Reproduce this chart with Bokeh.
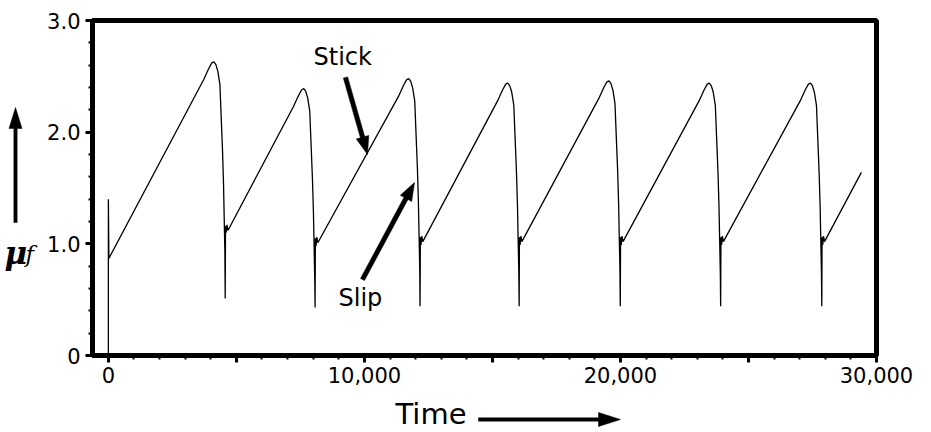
from bokeh.plotting import figure
from bokeh.layouts import column, row
from bokeh.models import FixedTicker, Label, PolyAnnotation
from bokeh.embed import file_html
from bokeh.resources import INLINE
import math

# ---- data ----
time_pts = [
    0, 0, 20,
    3720, 3920, 4040, 4120, 4200, 4276, 4355, 4407, 4459, 4498, 4524, 4550, 4563, 4575, 4600, 4630, 4670,
    7230, 7430, 7550, 7630, 7710, 7786, 7865, 7917, 7969, 8008, 8034, 8060, 8073, 8085, 8110, 8140, 8180,
    11330, 11530, 11650, 11730, 11810, 11886, 11965, 12017, 12069, 12108, 12134, 12160, 12173, 12185, 12210, 12240, 12280,
    15200, 15400, 15520, 15600, 15680, 15756, 15835, 15887, 15939, 15978, 16004, 16030, 16043, 16055, 16080, 16110, 16150,
    19150, 19350, 19470, 19550, 19630, 19706, 19785, 19837, 19889, 19928, 19954, 19980, 19993, 20005, 20030, 20060, 20100,
    23070, 23270, 23390, 23470, 23550, 23626, 23705, 23757, 23809, 23848, 23874, 23900, 23913, 23925, 23950, 23980, 24020,
    27020, 27220, 27340, 27420, 27500, 27576, 27655, 27707, 27759, 27798, 27824, 27850, 27863, 27875, 27900, 27930, 27970,
    29410,
]
mu_pts = [
    0.0, 1.40, 0.87,
    2.47, 2.57, 2.62, 2.63, 2.605, 2.545, 2.43, 2.13, 1.83, 1.53, 1.23, 0.93, 0.51, 1.16, 1.10, 1.17, 1.12,
    2.23, 2.33, 2.38, 2.39, 2.365, 2.305, 2.19, 1.89, 1.59, 1.29, 0.99, 0.69, 0.43, 1.05, 0.98, 1.06, 1.01,
    2.32, 2.42, 2.47, 2.48, 2.455, 2.395, 2.28, 1.98, 1.68, 1.38, 1.08, 0.78, 0.44, 1.06, 0.99, 1.07, 1.02,
    2.28, 2.38, 2.43, 2.44, 2.415, 2.355, 2.24, 1.94, 1.64, 1.34, 1.04, 0.74, 0.44, 1.06, 0.99, 1.07, 1.02,
    2.30, 2.40, 2.45, 2.46, 2.435, 2.375, 2.26, 1.96, 1.66, 1.36, 1.06, 0.76, 0.44, 1.06, 0.99, 1.07, 1.02,
    2.28, 2.38, 2.43, 2.44, 2.415, 2.355, 2.24, 1.94, 1.64, 1.34, 1.04, 0.74, 0.44, 1.06, 0.99, 1.07, 1.02,
    2.28, 2.38, 2.43, 2.44, 2.415, 2.355, 2.24, 1.94, 1.64, 1.34, 1.04, 0.74, 0.44, 1.06, 0.99, 1.07, 1.02,
    1.64,
]

x_major = [0, 5000, 10000, 15000, 20000, 25000, 30000]
x_minor = [1000, 2000, 3000, 4000, 6000, 7000, 8000, 9000, 11000, 12000, 13000, 14000,
           16000, 17000, 18000, 19000, 21000, 22000, 23000, 24000, 26000, 27000, 28000, 29000]
x_labels = {0: "0", 5000: "", 10000: "10,000", 15000: "", 20000: "20,000", 25000: "", 30000: "30,000"}
y_major = [0, 1, 2, 3]
y_minor = [0.2, 0.4, 0.6, 0.8, 1.2, 1.4, 1.6, 1.8, 2.2, 2.4, 2.6, 2.8]
y_labels = {0: "0", 1: "1.0", 2: "2.0", 3: "3.0"}

X0, X1 = -620, 30000
Y0, Y1 = 0, 3.0

# page layout (pixels)
W, H = 925, 432
LW = 42            # width of left strip (y title)
MH = 396           # height of main figure
FL, FR, FT, FB = 92, 876, 20, 355   # frame edges in page pixels


def dx(px):
    return X0 + (px - FL) * (X1 - X0) / (FR - FL)


def dy(py):
    return Y0 + (FB - py) * (Y1 - Y0) / (FB - FT)


def ident(v):
    return v


def blank(width, height, xr, yr):
    f = figure(width=width, height=height, x_range=xr, y_range=yr, x_axis_type=None,
               y_axis_type=None, output_backend="svg", toolbar_location=None, title=None,
               min_border=0)
    f.outline_line_color = None
    f.background_fill_color = "white"
    f.border_fill_color = "white"
    return f


p = figure(width=W - LW, height=MH, x_range=(X0, X1), y_range=(Y0, Y1),
           output_backend="svg", toolbar_location=None, title=None,
           min_border_left=FL - LW, min_border_right=W - FR, min_border_top=FT,
           min_border_bottom=MH - FB)
p.background_fill_color = "white"
p.border_fill_color = "white"
p.xgrid.grid_line_color = None
p.ygrid.grid_line_color = None
p.outline_line_color = "black"
p.outline_line_width = 5
p.outline_line_alpha = 1

p.line(time_pts, mu_pts, line_color="black", line_width=1.3)

for ax in (p.xaxis[0], p.yaxis[0]):
    ax.axis_line_width = 5
    ax.axis_line_color = "black"
    ax.major_tick_in = 0
    ax.major_tick_out = 7
    ax.major_tick_line_width = 3
    ax.minor_tick_in = 0
    ax.minor_tick_out = 4
    ax.minor_tick_line_width = 2
    ax.major_label_text_font = "DejaVu Sans"
    ax.major_label_text_font_size = "21px"
    ax.major_label_text_color = "black"

p.xaxis[0].ticker = FixedTicker(ticks=x_major, minor_ticks=x_minor)
p.xaxis[0].major_label_overrides = x_labels
p.xaxis[0].major_label_standoff = 4
p.yaxis[0].ticker = FixedTicker(ticks=y_major, minor_ticks=y_minor)
p.yaxis[0].major_label_overrides = y_labels
p.yaxis[0].major_label_standoff = 5

# the left strip's frame is aligned with the main frame (page y FT..FB) by the row layout
left = blank(LW, MH, (0, LW), (FB, FT))
bottom = blank(W, H - MH, (0, W), (H, MH))


def arrow(fig, fx, fy, x0, y0, x1, y1, w, hl, hw):
    L = math.hypot(x1 - x0, y1 - y0)
    ux, uy = (x1 - x0) / L, (y1 - y0) / L
    nx, ny = -uy, ux
    bx, by = x1 - ux * hl, y1 - uy * hl
    pts = [
        (x0 + nx * w / 2, y0 + ny * w / 2),
        (bx + nx * w / 2, by + ny * w / 2),
        (bx + nx * hw / 2, by + ny * hw / 2),
        (x1, y1),
        (bx - nx * hw / 2, by - ny * hw / 2),
        (bx - nx * w / 2, by - ny * w / 2),
        (x0 - nx * w / 2, y0 - ny * w / 2),
    ]
    fig.add_layout(PolyAnnotation(xs=[fx(a) for a, b in pts], ys=[fy(b) for a, b in pts],
                                  fill_color="black", fill_alpha=1, line_color="black",
                                  line_width=0.5, line_alpha=1))


def label(fig, fx, fy, x, y, text, size, font="DejaVu Sans", style="normal"):
    fig.add_layout(Label(x=fx(x), y=fy(y), text=text, text_font=font, text_font_style=style,
                         text_font_size=size, text_color="black", text_baseline="alphabetic"))


# in-plot annotations
label(p, dx, dy, 313, 56, "Stick", "24px")
label(p, dx, dy, 338, 297, "Slip", "24px")
arrow(p, dx, dy, 345, 77, 367, 154, 4.5, 18, 13)
arrow(p, dx, dy, 362, 279, 414, 182, 4.5, 18, 13)

# x axis title with arrow (page coordinates)
label(bottom, ident, ident, 395, 413, "Time", "29px")
arrow(bottom, ident, ident, 478, 419, 620, 419, 3.3, 22, 14)

# y axis title with arrow (page coordinates)
arrow(left, ident, ident, 15, 222, 15, 107, 3.3, 21, 13)
label(left, ident, ident, 4, 252, "\u03bc", "31px", font="DejaVu Serif", style="bold italic")
label(left, ident, ident, 25, 253, "f", "23px", font="DejaVu Serif", style="italic")

layout = column(row(left, p, spacing=0), bottom, spacing=0)
open("out.html", "w").write(file_html(layout, INLINE))
